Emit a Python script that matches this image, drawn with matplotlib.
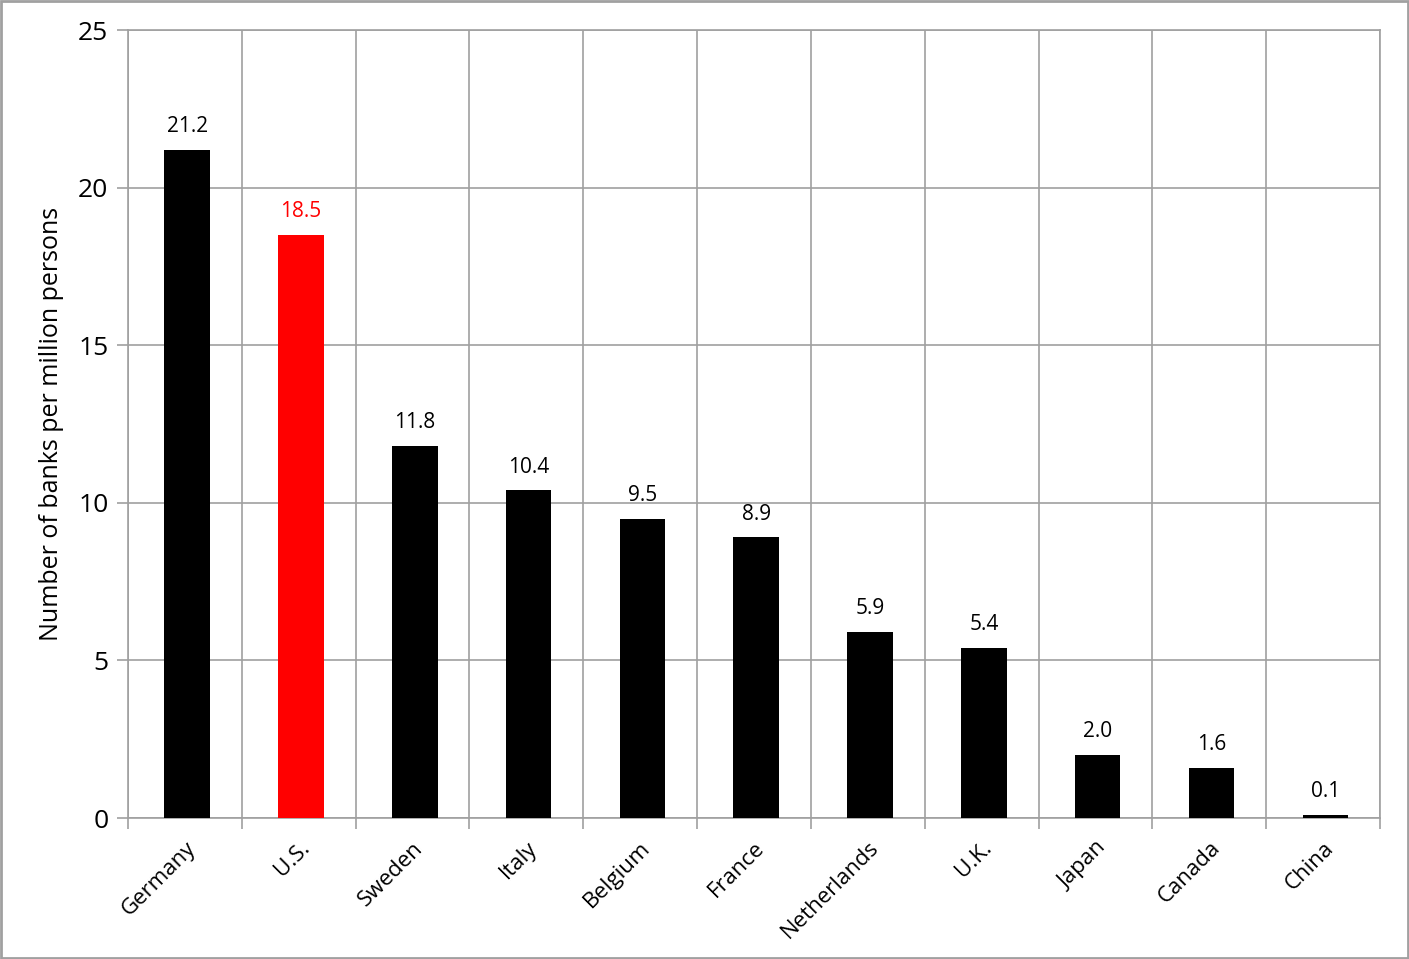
import matplotlib
matplotlib.use("Agg")
import matplotlib.pyplot as plt
import numpy as np
from matplotlib.patches import Rectangle

countries = ["Germany", "U.S.", "Sweden", "Italy", "Belgium", "France",
             "Netherlands", "U.K.", "Japan", "Canada", "China"]
banks_per_million = [21.2, 18.5, 11.8, 10.4, 9.5, 8.9, 5.9, 5.4, 2.0, 1.6, 0.1]
highlight = "U.S."
y_ticks = [0, 5, 10, 15, 20, 25]

plt.rcParams['font.family'] = ['Open Sans', 'DejaVu Sans']
grid_color = '#a0a0a0'

fig = plt.figure(figsize=(14.09, 9.59), dpi=100)
ax = fig.add_axes([0.0908, 0.147, 0.8886, 0.8217])

x = np.arange(len(countries))
colors = ['#ff0000' if c == highlight else 'black' for c in countries]
ax.bar(x + 0.02, banks_per_million, width=0.4, color=colors, zorder=3)

for xi, v, c in zip(x, banks_per_million, colors):
    ax.text(xi + 0.02, v + 0.4, f"{v:.1f}", ha='center', va='bottom', fontsize=15,
            color=c, zorder=4)

ax.set_xlim(-0.5, len(countries) - 0.5)
ax.set_ylim(0, 25)
ax.set_yticks(y_ticks)
ax.tick_params(axis='y', labelsize=19, length=8, color=grid_color, width=1.2, pad=6)

# category boundaries as vertical grid + tick marks
bounds = np.arange(len(countries) + 1) - 0.5
ax.set_xticks(bounds)
ax.set_xticklabels([])
ax.tick_params(axis='x', length=8, color=grid_color, width=1.2)
ax.set_xticks(x, minor=True)
ax.set_xticklabels(countries, minor=True, rotation=45, ha='right',
                   rotation_mode='anchor', fontsize=16)
ax.tick_params(axis='x', which='minor', length=0, pad=14)

ax.grid(True, which='major', color=grid_color, linewidth=1.2, zorder=0)
for s in ax.spines.values():
    s.set_color(grid_color)
    s.set_linewidth(1.2)

ax.set_ylabel("Number of banks per million persons", fontsize=18, labelpad=10)

fig.patches.append(Rectangle((0.001, 0.001), 0.998, 0.998, transform=fig.transFigure,
                             fill=False, edgecolor=grid_color, linewidth=2))

fig.savefig("out.png", dpi=100)
